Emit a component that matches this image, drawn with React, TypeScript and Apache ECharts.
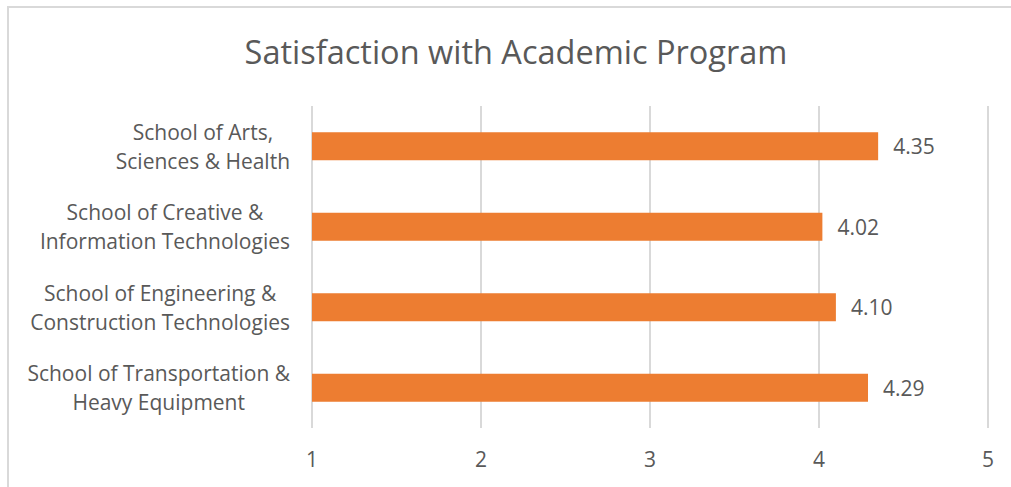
import React, { useEffect, useRef } from "react";
import * as echarts from "echarts";

const titleText = "Satisfaction with Academic Program";
const categories = [
  "School of Arts,\nSciences & Health",
  "School of Creative &\nInformation Technologies",
  "School of Engineering &\nConstruction Technologies",
  "School of Transportation &\nHeavy Equipment",
];
const values = [4.35, 4.02, 4.1, 4.29];
const axisMin = 1;
const axisMax = 5;
const axisInterval = 1;

const FONT = "'Open Sans', sans-serif";
const GRAY = "#595959";

export default function App() {
  const ref = useRef<HTMLDivElement>(null);
  useEffect(() => {
    document.body.style.margin = "0";
    if (!ref.current) return;
    const chart = echarts.init(ref.current, undefined, { renderer: "svg" });
    chart.setOption({
      animation: false,
      backgroundColor: "#ffffff",
      title: {
        text: titleText,
        left: 511,
        textAlign: "center",
        top: 30,
        textStyle: { fontFamily: FONT, fontSize: 32.5, fontWeight: "normal", color: GRAY },
      },
      grid: { left: 312, right: 23, top: 106, bottom: 59, containLabel: false },
      xAxis: {
        type: "value",
        min: axisMin,
        max: axisMax,
        interval: axisInterval,
        axisLine: { show: false },
        axisTick: { show: false },
        axisLabel: { color: GRAY, fontFamily: FONT, fontSize: 21, margin: 20 },
        splitLine: { show: true, lineStyle: { color: "#d9d9d9", width: 2 } },
      },
      yAxis: {
        type: "category",
        data: categories,
        inverse: true,
        axisLine: { show: false },
        axisTick: { show: false },
        axisLabel: {
          color: GRAY,
          fontFamily: FONT,
          fontSize: 21,
          lineHeight: 29,
          margin: 22,
          align: "right",
          formatter: (v: string) =>
            v
              .split("\n")
              .map((l) => `{c|${l}}`)
              .join("\n"),
          rich: {
            c: { align: "center", color: GRAY, fontFamily: FONT, fontSize: 21, lineHeight: 29 },
          },
        },
      },
      series: [
        {
          type: "bar",
          data: values,
          barCategoryGap: "65%",
          itemStyle: { color: "#ED7D31" },
          label: {
            show: true,
            position: "right",
            distance: 15,
            color: GRAY,
            fontFamily: FONT,
            fontSize: 21,
            formatter: (p: any) => Number(p.value).toFixed(2),
          },
        },
      ],
    });
    return () => chart.dispose();
  }, []);
  return (
    <div style={{ position: "relative", width: 1011, height: 487, overflow: "hidden" }}>
      <div ref={ref} style={{ position: "absolute", left: 0, top: 0, width: 1011, height: 487 }} />
      <div
        style={{
          position: "absolute",
          left: 7,
          top: 6,
          width: 1030,
          height: 520,
          border: "2px solid #d9d9d9",
          pointerEvents: "none",
        }}
      />
    </div>
  );
}
